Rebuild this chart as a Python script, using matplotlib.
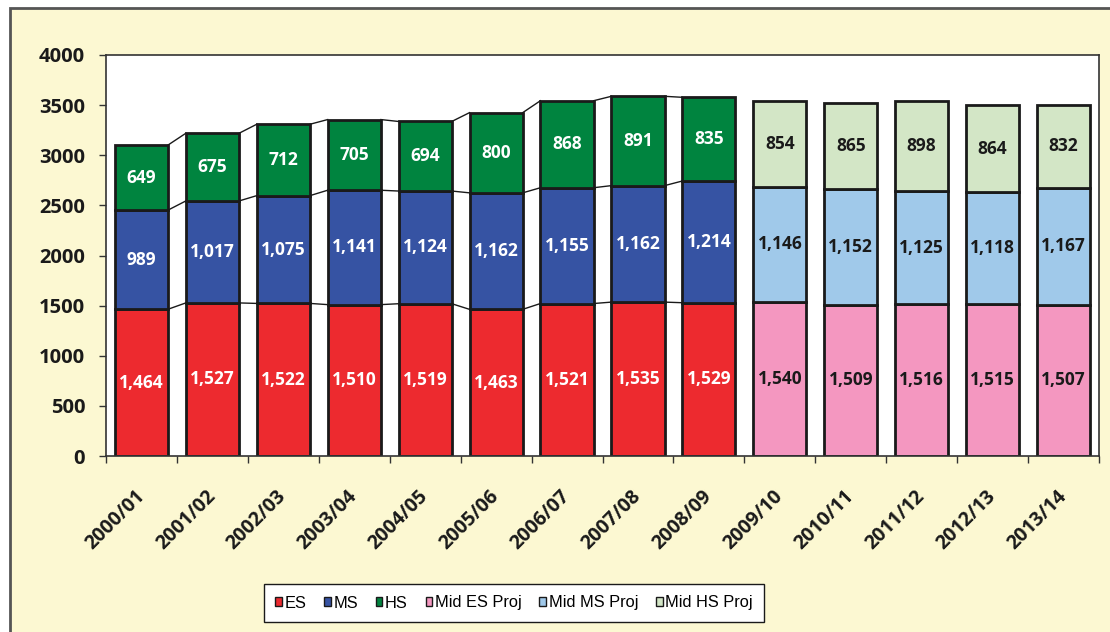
import matplotlib.pyplot as plt
import numpy as np
from matplotlib.patches import Patch, Rectangle

years = ["2000/01", "2001/02", "2002/03", "2003/04", "2004/05", "2005/06",
         "2006/07", "2007/08", "2008/09", "2009/10", "2010/11", "2011/12",
         "2012/13", "2013/14"]
es = [1464, 1527, 1522, 1510, 1519, 1463, 1521, 1535, 1529,
      1540, 1509, 1516, 1515, 1507]
ms = [989, 1017, 1075, 1141, 1124, 1162, 1155, 1162, 1214,
      1146, 1152, 1125, 1118, 1167]
hs = [649, 675, 712, 705, 694, 800, 868, 891, 835,
      854, 865, 898, 864, 832]
n_actual = 9  # first 9 years are actual, rest are projections

actual_colors = ["#ED2A2F", "#3653A3", "#00843F"]
proj_colors = ["#F497C0", "#A0C9EA", "#D3E6C6"]
legend_labels = ["ES", "MS", "HS", "Mid ES Proj", "Mid MS Proj", "Mid HS Proj"]

plt.rcParams["font.family"] = ["Open Sans", "DejaVu Sans"]

fig = plt.figure(figsize=(11.1, 6.32), dpi=100)
fig.patch.set_facecolor("white")
fig.patches.append(Rectangle((10 / 1110, -0.05), 1.2, 1 - 8 / 632 + 0.05,
                             transform=fig.transFigure, facecolor="#FCF8D2",
                             edgecolor="#555555", linewidth=2, zorder=-5))

ax = fig.add_axes([106 / 1110, 176 / 632, 993 / 1110, 401 / 632])
ax.set_facecolor("white")

x = np.arange(len(years))
width = 0.75
series = [np.array(es), np.array(ms), np.array(hs)]
bottoms = np.zeros(len(years))
for k, vals in enumerate(series):
    colors = [actual_colors[k] if i < n_actual else proj_colors[k]
              for i in range(len(years))]
    ax.bar(x, vals, width, bottom=bottoms, color=colors, edgecolor="#1a1a1a",
           linewidth=2, zorder=2)
    for i, v in enumerate(vals):
        txt_color = "white" if i < n_actual else "#1a1a1a"
        ax.text(x[i], bottoms[i] + v / 2, f"{v:,}", ha="center", va="center",
                color=txt_color, fontsize=12.5, fontweight="bold", zorder=3)
    bottoms = bottoms + vals
    # series connector lines between actual bars
    for i in range(n_actual - 1):
        ax.plot([x[i] + width / 2, x[i + 1] - width / 2],
                [bottoms[i], bottoms[i + 1]], color="#1a1a1a", lw=1, zorder=1)

ax.set_xlim(-0.5, len(years) - 0.5)
ax.set_ylim(0, 4000)
ax.set_yticks(np.arange(0, 4001, 500))
ax.set_yticklabels([str(v) for v in range(0, 4001, 500)], fontsize=14.5,
                   fontweight="bold", color="#1a1a1a")
ax.tick_params(axis="y", length=5, width=1, color="#333333", pad=10)

ax.set_xticks(x)
ax.set_xticklabels(years, rotation=45, ha="right", va="center",
                   rotation_mode="anchor", fontsize=14, fontweight="bold",
                   color="#1a1a1a")
ax.tick_params(axis="x", which="major", length=0, pad=27)
ax.set_xticks(np.arange(-0.5, len(years), 1), minor=True)
ax.tick_params(axis="x", which="minor", length=5, width=1, color="#333333")

for spine in ax.spines.values():
    spine.set_color("#333333")
    spine.set_linewidth(1.2)

handles = [Patch(facecolor=c, edgecolor="#1a1a1a", linewidth=1)
           for c in actual_colors + proj_colors]
fig.legend(handles, legend_labels, loc="center",
           bbox_to_anchor=(514 / 1110, 29 / 632), ncol=6, frameon=True,
           fancybox=False, edgecolor="#1a1a1a", framealpha=1,
           prop={"family": "Liberation Sans", "size": 11.8},
           handlelength=0.4, handleheight=0.5, handletextpad=0.15,
           columnspacing=1.1, borderpad=0.7)

fig.savefig("out.png", dpi=100)
